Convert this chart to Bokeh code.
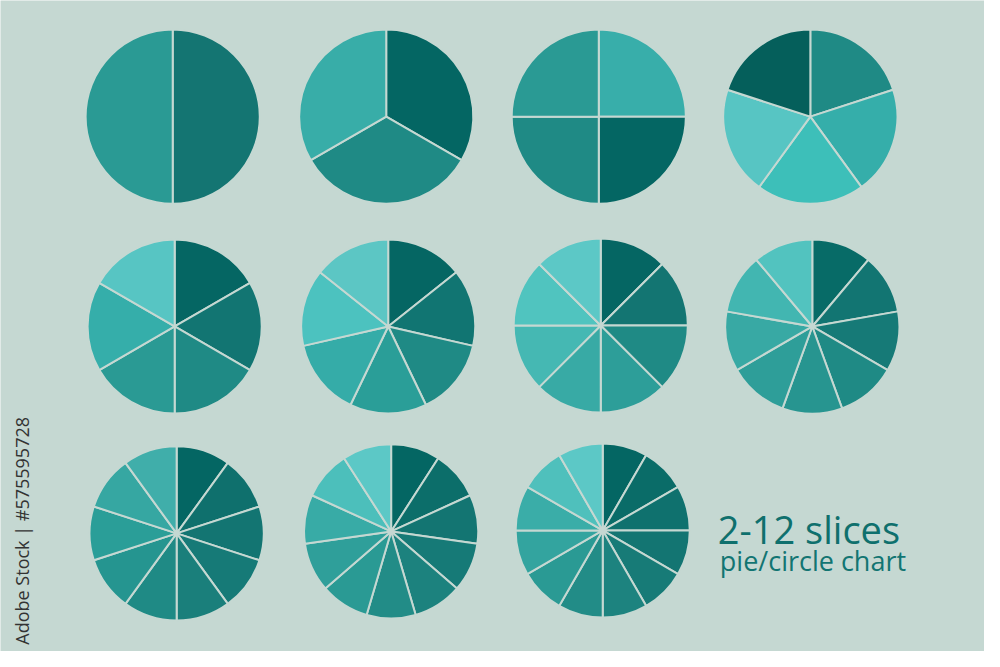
import numpy as np
from bokeh.plotting import figure
from bokeh.models import Range1d, ColumnDataSource
from bokeh.core.properties import value
from bokeh.embed import file_html
from bokeh.resources import INLINE

# ---- data ----
slice_counts = [2, 3, 4, 5, 6, 7, 8, 9, 10, 11, 12]
slice_colors = [
    ["#147572", "#2a9a94"],
    ["#046663", "#1f8a85", "#38ada8"],
    ["#38aeaa", "#046663", "#1f8a85", "#2a9a94"],
    ["#1f8a85", "#35aeaa", "#3dbfb9", "#57c5c3", "#055f5b"],
    ["#056663", "#127572", "#1f8a85", "#2a9a94", "#35aeaa", "#57c5c3"],
    ["#056663", "#117572", "#1f8a85", "#2a9e98", "#35aca8", "#4cc2bf", "#5cc6c4"],
    ["#056663", "#137572", "#1f8a85", "#2d9e99", "#38aaa5", "#45b8b3", "#50c4bf", "#5cc8c6"],
    ["#076b67", "#127572", "#167a77", "#1f8a85", "#279590", "#2e9e99", "#38a9a4", "#42b6b1", "#52c3bf"],
    ["#046663", "#0f706d", "#137572", "#167a77", "#1a7f7b", "#1f8a85", "#259590", "#2a9e98", "#36a7a2", "#40aeaa"],
    ["#046663", "#0c6e6a", "#137572", "#167a77", "#1c827e", "#228c87", "#2a9a94", "#2f9f9a", "#38aba6", "#4cbfbb", "#5cc8c6"],
    ["#046663", "#0a6c68", "#0f716e", "#137572", "#177b77", "#1d837f", "#228c87", "#2a9a94", "#33a49f", "#3aada8", "#4fc0bc", "#5cc8c6"],
]
title_text = "2-12 slices"
subtitle_text = "pie/circle chart"
side_text = "Adobe Stock | #575595728"

# ---- layout (image pixel coordinates, y downward) ----
centers_x = [175, 392, 608, 823, 177, 394, 610, 825, 179, 397, 612]
centers_y = [119, 119, 119, 119, 334, 334, 333, 334, 546, 544, 543]
radius = 88.5
W, H = 1000, 667
BG = "#c5d8d2"

p = figure(width=984, height=651, x_range=Range1d(0, W), y_range=Range1d(0, H),
           output_backend="svg", toolbar_location=None, min_border=0)
p.axis.visible = False
p.grid.visible = False
p.outline_line_color = None
p.background_fill_color = BG
p.border_fill_color = BG

xs, ys, starts, ends, cols = [], [], [], [], []
for n, colors, cx, cy in zip(slice_counts, slice_colors, centers_x, centers_y):
    vals = np.ones(n)
    cum = np.concatenate([[0], np.cumsum(vals)]) / vals.sum()
    for i in range(n):
        xs.append(cx)
        ys.append(H - cy)
        starts.append(np.pi / 2 - 2 * np.pi * cum[i])
        ends.append(np.pi / 2 - 2 * np.pi * cum[i + 1])
        cols.append(colors[i])

src = ColumnDataSource(dict(x=xs, y=ys, s=starts, e=ends, c=cols))
p.wedge(x="x", y="y", radius=radius, start_angle="s", end_angle="e", direction="clock",
        fill_color="c", line_color=BG, line_width=2, source=src)

p.text(x=[729], y=[H - 541], text=[title_text], text_font=value("Open Sans"),
       text_font_size="38px", text_color="#0f706d", text_baseline="alphabetic")
p.text(x=[731], y=[H - 574], text=[subtitle_text], text_font=value("Open Sans"),
       text_font_size="27px", text_color="#127572", text_baseline="alphabetic")
p.text(x=[22], y=[H - 660], text=[side_text], text_font=value("Open Sans"),
       text_font_size="18px", text_color="#333333", text_baseline="middle",
       angle=np.pi / 2)

open("out.html", "w").write(file_html(p, INLINE))
